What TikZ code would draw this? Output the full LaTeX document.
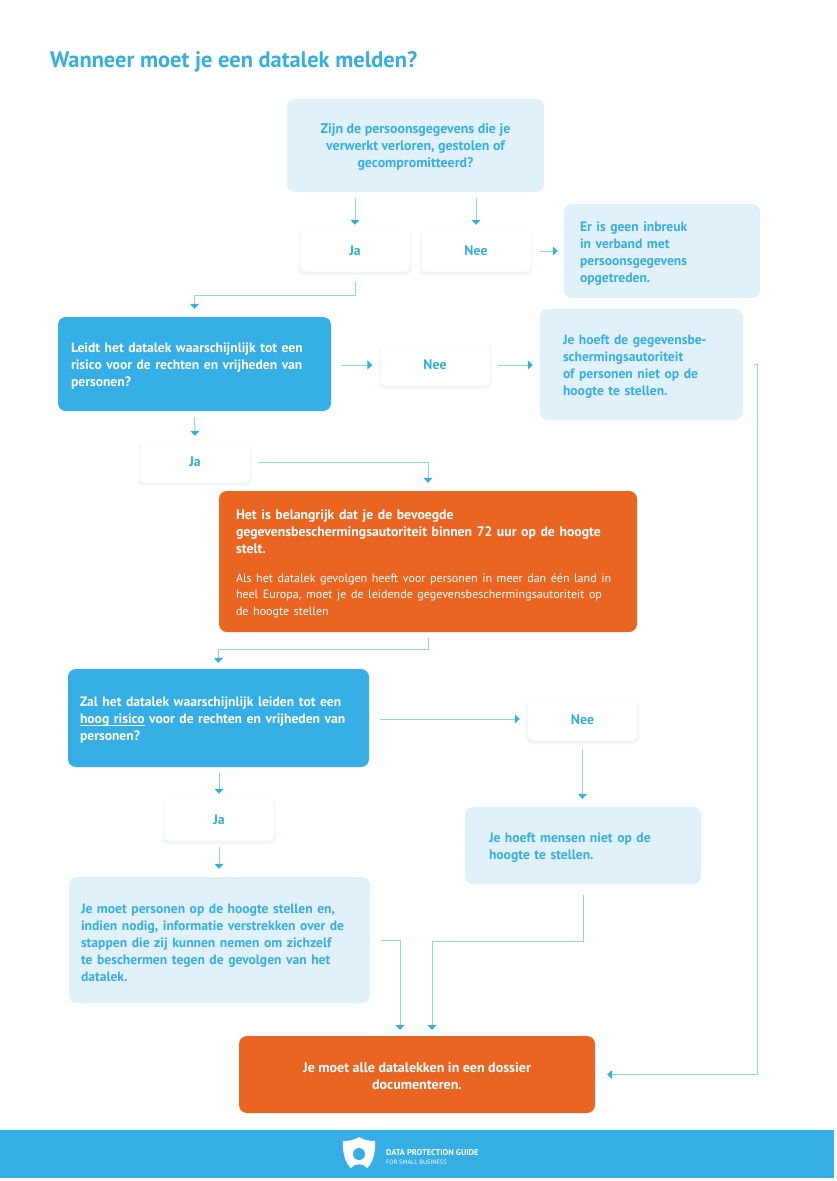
\documentclass[tikz,border=0pt]{standalone}
\usepackage{fontspec}
\setmainfont{PT Sans}
\usetikzlibrary{arrows.meta,shadows}

\definecolor{blueC}{HTML}{35ADE5}
\definecolor{paleC}{HTML}{E1F1FA}
\definecolor{lineC}{HTML}{8FD2F2}
\definecolor{orangeC}{HTML}{EA6522}
\definecolor{shadowC}{HTML}{5B8FB0}

\tikzset{
  box/.style={rounded corners=8pt, inner sep=0pt, align=left, font=\fontsize{13.6}{17}\selectfont\bfseries,
    execute at begin node={\rule{0pt}{14.5pt}}},
  palebox/.style={box, fill=paleC, text=blueC},
  bluebox/.style={box, fill=blueC, text=white},
  orangebox/.style={box, fill=orangeC, text=white},
  softshade/.style={general shadow={draw=shadowC, fill=none, line width=#1, opacity=.03, shadow yshift=-2pt}},
  answer/.style={rounded corners=4pt, fill=white, text=blueC, inner sep=0pt,
    minimum width=109pt, minimum height=40pt, font=\fontsize{13.8}{17}\selectfont\bfseries,
    softshade=6pt, softshade=3.5pt, softshade=1.5pt},
  link/.style={draw=lineC, line width=1pt,
    -{Triangle[width=9pt,length=5pt,color=blueC,fill=blueC]}},
}

\begin{document}
\begin{tikzpicture}[x=1pt, y=-1pt]

\useasboundingbox (0,0) rectangle (837,1181);

% title
\node[anchor=base west, inner sep=0pt, text=blueC, font=\fontsize{22.4}{26}\selectfont\bfseries]
  (title) at (50,67) {Wanneer moet je een datalek melden?};

% question boxes
\node[palebox, align=center, minimum width=257pt, minimum height=93pt,
    font=\fontsize{13.9}{17}\selectfont\bfseries] (verloren) at (415.5,145.5)
  {\rule{0pt}{13.5pt}Zijn de persoonsgegevens die je\\verwerkt verloren, gestolen of\\gecompromitteerd?};
\node[palebox, minimum width=196pt, minimum height=94pt, text width=164pt] (geen) at (662,251)
  {Er is geen inbreuk\\in verband met\\persoonsgegevens\\opgetreden.};
\node[bluebox, minimum width=273pt, minimum height=94pt, text width=247pt] (risico) at (194.5,364)
  {Leidt het datalek waarschijnlijk tot een\\risico voor de rechten en vrijheden van\\personen?};
\node[palebox, minimum width=203pt, minimum height=111pt, text width=157pt] (nietmelden) at (641.5,364.5)
  {Je hoeft de gegevensbe-\\schermingsautoriteit\\of personen niet op de\\hoogte te stellen.};
\node[orangebox, minimum width=418pt, minimum height=141pt, text width=384pt,
    font=\fontsize{13.75}{17}\selectfont\bfseries] (melden) at (428,561.5)
  {Het is belangrijk dat je de bevoegde\\gegevensbeschermingsautoriteit binnen 72 uur op de hoogte\\stelt.\\[14pt]
  {\fontsize{12.05}{15.5}\selectfont\mdseries Als het datalek gevolgen heeft voor personen in meer dan één land in\\heel Europa, moet je de leidende gegevensbeschermingsautoriteit op\\de hoogte stellen}};
\node[bluebox, minimum width=301pt, minimum height=98pt, text width=277pt] (hoog) at (218.5,718)
  {Zal het datalek waarschijnlijk leiden tot een\\\underline{\smash{hoog risico}} voor de rechten en vrijheden van\\personen?};
\node[palebox, minimum width=236pt, minimum height=77pt, text width=188pt] (mensen) at (583,845.5)
  {Je hoeft mensen niet op de\\hoogte te stellen.};
\node[palebox, minimum width=301pt, minimum height=126pt, text width=277pt] (personen) at (219.5,940)
  {Je moet personen op de hoogte stellen en,\\indien nodig, informatie verstrekken over de\\stappen die zij kunnen nemen om zichzelf\\te beschermen tegen de gevolgen van het\\datalek.};
\node[orangebox, align=center, minimum width=356pt, minimum height=77pt,
    font=\fontsize{14}{17}\selectfont\bfseries] (dossier) at (417,1074.5)
  {\rule{0pt}{12.5pt}Je moet alle datalekken in een dossier\\documenteren.};

% answers
\node[answer] (ja1) at (355,251) {Ja};
\node[answer] (nee1) at (476,251) {Nee};
\node[answer] (nee2) at (435,365) {Nee};
\node[answer] (ja2) at (195,462) {Ja};
\node[answer] (nee3) at (582.5,720) {Nee};
\node[answer] (ja3) at (219,820) {Ja};

% connectors
\draw[link, shorten <=6pt, shorten >=6pt] (ja1.north |- verloren.south) -- (ja1.north);
\draw[link, shorten <=6pt, shorten >=6pt] (nee1.north |- verloren.south) -- (nee1.north);
\draw[link, shorten <=9pt, shorten >=6pt] (nee1.east) -- (geen.west);
\draw[link, shorten <=10pt, shorten >=8pt] (ja1.south) -- ++(0,24) -| (risico.north);
\draw[link, shorten <=10pt, shorten >=8pt] (risico.east |- nee2.west) -- (nee2.west);
\draw[link, shorten <=8pt, shorten >=7pt] (nee2.east) -- (nietmelden.west |- nee2.east);
\draw[link, shorten <=6pt, shorten >=6pt] (risico.south) -- (ja2.north);
\draw[link, shorten <=8pt, shorten >=8pt] (ja2.east) -| (melden.north);
\draw[link, shorten <=6pt, shorten >=6pt] (melden.south) -- ++(0,17) -| (hoog.north);
\draw[link, shorten <=11pt, shorten >=8pt] (hoog.east |- 0,719) -- (nee3.west |- 0,719);
\draw[link, shorten <=10pt, shorten >=8pt] (nee3.south) -- (mensen.north -| nee3.south);
\draw[link, shorten <=6pt, shorten >=6pt] (hoog.south -| ja3.north) -- (ja3.north);
\draw[link, shorten <=7pt, shorten >=8pt] (ja3.south) -- (personen.north -| ja3.south);
\draw[link, shorten <=11pt, shorten >=6pt] (personen.east) -| (400,1036);
\draw[link, shorten <=11pt, shorten >=6pt] (mensen.south) -- ++(0,57) -| (432,1036);
\draw[link, shorten <=11pt, shorten >=12pt] (nietmelden.east) -- ++(14,0) |- (dossier.east);

% footer
\fill[blueC] (0,1130) rectangle (834,1178);
\fill[white] (359,1137) .. controls (354,1140) and (349,1141) .. (343,1141)
  .. controls (342,1153) and (346,1164) .. (351,1168)
  .. controls (354,1163) and (364,1163) .. (367,1168)
  .. controls (372,1164) and (376,1153) .. (375,1141)
  .. controls (369,1141) and (364,1140) .. (359,1137) -- cycle;
\fill[blueC] (359,1154) circle (6pt);
\node[anchor=base west, inner sep=0pt, text=white, font=\fontsize{8.4}{9}\selectfont\bfseries]
  (guide) at (386,1155) {DATA PROTECTION GUIDE};
\node[anchor=base west, inner sep=0pt, text=white, font=\fontsize{6.3}{8}\selectfont]
  (small) at (386,1164.5) {FOR SMALL BUSINESS};

\end{tikzpicture}
\end{document}
